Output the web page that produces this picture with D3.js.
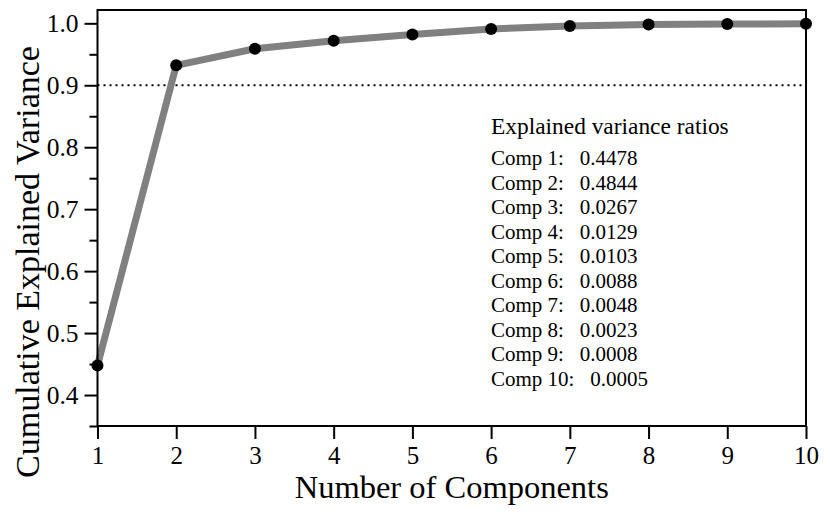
<!DOCTYPE html>
<html>
<head>
<meta charset="utf-8">
<script src="https://cdn.jsdelivr.net/npm/d3@7"></script>
<style>
  html, body { margin: 0; padding: 0; background: #fff; }
  svg text { font-family: "Liberation Serif", "Times New Roman", serif; fill: #000; }
</style>
</head>
<body>
<svg id="chart" width="830" height="515"></svg>
<script>
const components = [1, 2, 3, 4, 5, 6, 7, 8, 9, 10];
const varianceRatios = [0.4478, 0.4844, 0.0267, 0.0129, 0.0103, 0.0088, 0.0048, 0.0023, 0.0008, 0.0005];
const cumulativeVariance = [0.4478, 0.9322, 0.9589, 0.9718, 0.9821, 0.9909, 0.9957, 0.9980, 0.9988, 0.9993];
const yMajorTicks = [0.4, 0.5, 0.6, 0.7, 0.8, 0.9, 1.0];
const yMinorTicks = [0.35, 0.45, 0.55, 0.65, 0.75, 0.85, 0.95];
const threshold = 0.9;
const legendTitle = "Explained variance ratios";
const xLabel = "Number of Components";
const yLabel = "Cumulative Explained Variance";

(function () {
const svg = d3.select("#chart");
const mLeft = 97.5, mRight = 806, mTop = 10, mBottom = 426;

const x = d3.scaleLinear().domain([1, 10]).range([mLeft, mRight]);
const y = d3.scaleLinear().domain([0.35, 1.0215]).range([mBottom, mTop]);

// threshold line
svg.append("line")
  .attr("x1", mLeft).attr("x2", mRight)
  .attr("y1", y(threshold)).attr("y2", y(threshold))
  .attr("stroke", "#000").attr("stroke-width", 2)
  .attr("stroke-dasharray", "2,4");

// cumulative line
const data = components.map((c, i) => ({c, v: cumulativeVariance[i]}));
svg.append("path")
  .datum(data)
  .attr("fill", "none")
  .attr("stroke", "#808080")
  .attr("stroke-width", 7)
  .attr("stroke-linejoin", "round")
  .attr("d", d3.line().x(d => x(d.c)).y(d => y(d.v)));

svg.selectAll("circle.pt")
  .data(data)
  .join("circle")
  .attr("class", "pt")
  .attr("cx", d => x(d.c))
  .attr("cy", d => y(d.v))
  .attr("r", 6)
  .attr("fill", "#000");

// frame
svg.append("rect")
  .attr("x", mLeft).attr("y", mTop)
  .attr("width", mRight - mLeft).attr("height", mBottom - mTop)
  .attr("fill", "none").attr("stroke", "#000").attr("stroke-width", 2);

// x axis
const xAxis = d3.axisBottom(x)
  .tickValues(components)
  .tickFormat(d3.format("d"))
  .tickSize(13).tickPadding(7);
const gx = svg.append("g").attr("transform", `translate(0,${mBottom})`).call(xAxis);
gx.select(".domain").remove();
gx.selectAll(".tick line").attr("stroke", "#000").attr("stroke-width", 2);
gx.selectAll(".tick text").attr("font-size", 25).style("font-family", '"Liberation Serif", serif');

// y axis
const yAxis = d3.axisLeft(y)
  .tickValues(yMajorTicks)
  .tickFormat(d3.format(".1f"))
  .tickSize(13).tickPadding(6);
const gy = svg.append("g").attr("transform", `translate(${mLeft},0)`).call(yAxis);
gy.select(".domain").remove();
gy.selectAll(".tick line").attr("stroke", "#000").attr("stroke-width", 2);
gy.selectAll(".tick text").attr("font-size", 25.5).style("font-family", '"Liberation Serif", serif');

const yMinor = d3.axisLeft(y).tickValues(yMinorTicks).tickSize(8).tickFormat("");
const gym = svg.append("g").attr("transform", `translate(${mLeft},0)`).call(yMinor);
gym.select(".domain").remove();
gym.selectAll(".tick line").attr("stroke", "#000").attr("stroke-width", 2);

// axis labels
svg.append("text")
  .attr("x", (mLeft + mRight) / 2).attr("y", 498)
  .attr("text-anchor", "middle")
  .attr("font-size", 32.5)
  .text(xLabel);

svg.append("text")
  .attr("transform", `translate(39,${(mTop + mBottom) / 2 + 44}) rotate(-90)`)
  .attr("text-anchor", "middle")
  .attr("font-size", 34)
  .text(yLabel);

// legend text
const lg = svg.append("g").attr("transform", "translate(491,0)");
lg.append("text").attr("x", 0).attr("y", 134).attr("font-size", 23.4).text(legendTitle);
lg.selectAll("text.item")
  .data(varianceRatios)
  .join("text")
  .attr("class", "item")
  .attr("x", 0)
  .attr("y", (d, i) => 165 + i * 24.5)
  .attr("font-size", 21)
  .style("white-space", "pre")
  .attr("xml:space", "preserve")
  .text((d, i) => `Comp ${components[i]}:   ${d.toFixed(4)}`);
})();
</script>
</body>
</html>
